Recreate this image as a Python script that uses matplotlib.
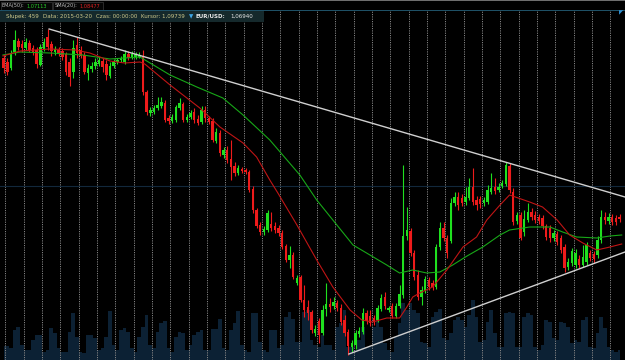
import numpy as np
import matplotlib
matplotlib.use("Agg")
import matplotlib.pyplot as plt
from matplotlib.patches import Rectangle

# --- candle data (daily bars, index 0 = first bar at the left edge) ---
opens = [1.342, 1.338, 1.332, 1.348, 1.359, 1.356, 1.352, 1.357, 1.352, 1.350,
         1.335, 1.351, 1.363, 1.356, 1.348, 1.350, 1.349, 1.346, 1.338, 1.328,
         1.355, 1.350, 1.345, 1.327, 1.331, 1.334, 1.336, 1.339, 1.336, 1.324,
         1.334, 1.338, 1.340, 1.338, 1.346, 1.343, 1.343, 1.343, 1.343, 1.308,
         1.287, 1.288, 1.292, 1.294, 1.297, 1.282, 1.279, 1.280, 1.292, 1.296,
         1.280, 1.283, 1.288, 1.281, 1.278, 1.290, 1.282, 1.279, 1.259, 1.267,
         1.245, 1.250, 1.241, 1.234, 1.227, 1.231, 1.230, 1.228, 1.211, 1.190,
         1.175, 1.168, 1.170, 1.176, 1.174, 1.172, 1.167, 1.154, 1.140, 1.145,
         1.117, 1.123, 1.100, 1.093, 1.088, 1.067, 1.079, 1.067, 1.091, 1.096,
         1.094, 1.097, 1.092, 1.080, 1.068, 1.053, 1.055, 1.066, 1.068, 1.087,
         1.084, 1.082, 1.080, 1.091, 1.103, 1.090, 1.094, 1.084, 1.094, 1.105,
         1.164, 1.169, 1.147, 1.125, 1.103, 1.109, 1.120, 1.117, 1.113, 1.153,
         1.172, 1.162, 1.159, 1.197, 1.203, 1.202, 1.198, 1.202, 1.213, 1.200,
         1.201, 1.197, 1.198, 1.208, 1.213, 1.210, 1.214, 1.216, 1.234, 1.208,
         1.179, 1.185, 1.168, 1.180, 1.188, 1.185, 1.183, 1.182, 1.174, 1.172,
         1.162, 1.166, 1.162, 1.153, 1.133, 1.137, 1.135, 1.141, 1.135, 1.138,
         1.147, 1.146, 1.145, 1.160, 1.183, 1.179, 1.183, 1.182, 1.183]
highs = [1.345, 1.342, 1.350, 1.370, 1.362, 1.360, 1.362, 1.360, 1.355, 1.353,
         1.356, 1.362, 1.371, 1.359, 1.354, 1.353, 1.352, 1.348, 1.342, 1.360,
         1.363, 1.354, 1.348, 1.336, 1.338, 1.342, 1.343, 1.342, 1.340, 1.338,
         1.341, 1.342, 1.344, 1.350, 1.349, 1.349, 1.348, 1.348, 1.350, 1.310,
         1.293, 1.295, 1.303, 1.303, 1.300, 1.285, 1.286, 1.295, 1.302, 1.298,
         1.286, 1.290, 1.292, 1.285, 1.294, 1.294, 1.284, 1.282, 1.272, 1.270,
         1.253, 1.254, 1.260, 1.238, 1.235, 1.233, 1.232, 1.230, 1.214, 1.192,
         1.178, 1.174, 1.190, 1.188, 1.178, 1.175, 1.170, 1.156, 1.154, 1.148,
         1.125, 1.125, 1.115, 1.100, 1.090, 1.075, 1.082, 1.095, 1.117, 1.102,
         1.103, 1.100, 1.096, 1.085, 1.071, 1.060, 1.070, 1.073, 1.092, 1.090,
         1.090, 1.085, 1.095, 1.106, 1.108, 1.094, 1.097, 1.097, 1.115, 1.235,
         1.193, 1.172, 1.150, 1.130, 1.114, 1.124, 1.123, 1.120, 1.156, 1.178,
         1.178, 1.165, 1.202, 1.208, 1.208, 1.206, 1.213, 1.222, 1.232, 1.204,
         1.204, 1.203, 1.215, 1.227, 1.222, 1.217, 1.220, 1.238, 1.237, 1.212,
         1.188, 1.188, 1.190, 1.197, 1.192, 1.189, 1.186, 1.185, 1.176, 1.175,
         1.170, 1.169, 1.165, 1.156, 1.142, 1.152, 1.151, 1.145, 1.155, 1.158,
         1.150, 1.149, 1.164, 1.190, 1.188, 1.187, 1.186, 1.185, 1.186]
lows = [1.327, 1.325, 1.330, 1.345, 1.350, 1.348, 1.350, 1.348, 1.345, 1.332,
        1.334, 1.349, 1.350, 1.344, 1.345, 1.344, 1.340, 1.325, 1.314, 1.322,
        1.342, 1.342, 1.326, 1.320, 1.328, 1.331, 1.334, 1.328, 1.320, 1.322,
        1.332, 1.336, 1.338, 1.336, 1.340, 1.341, 1.341, 1.342, 1.305, 1.285,
        1.284, 1.286, 1.290, 1.292, 1.278, 1.276, 1.277, 1.278, 1.290, 1.278,
        1.278, 1.281, 1.277, 1.275, 1.276, 1.278, 1.276, 1.258, 1.257, 1.244,
        1.242, 1.237, 1.220, 1.224, 1.225, 1.227, 1.226, 1.208, 1.187, 1.172,
        1.165, 1.165, 1.168, 1.169, 1.167, 1.164, 1.151, 1.138, 1.132, 1.121,
        1.115, 1.098, 1.083, 1.080, 1.067, 1.064, 1.057, 1.065, 1.084, 1.088,
        1.091, 1.089, 1.075, 1.064, 1.045, 1.048, 1.051, 1.063, 1.066, 1.076,
        1.074, 1.075, 1.078, 1.089, 1.091, 1.088, 1.082, 1.082, 1.092, 1.102,
        1.160, 1.144, 1.120, 1.100, 1.095, 1.107, 1.110, 1.110, 1.111, 1.150,
        1.159, 1.142, 1.157, 1.194, 1.190, 1.194, 1.195, 1.200, 1.195, 1.190,
        1.192, 1.194, 1.196, 1.206, 1.206, 1.208, 1.212, 1.214, 1.207, 1.175,
        1.176, 1.160, 1.164, 1.178, 1.180, 1.177, 1.176, 1.171, 1.160, 1.158,
        1.159, 1.155, 1.147, 1.128, 1.130, 1.134, 1.132, 1.132, 1.133, 1.135,
        1.139, 1.137, 1.142, 1.157, 1.176, 1.176, 1.175, 1.175, 1.178]
closes = [1.332, 1.328, 1.347, 1.360, 1.353, 1.352, 1.358, 1.350, 1.348, 1.336,
          1.353, 1.358, 1.353, 1.349, 1.351, 1.347, 1.343, 1.328, 1.323, 1.352,
          1.347, 1.344, 1.328, 1.332, 1.334, 1.338, 1.340, 1.333, 1.325, 1.334,
          1.338, 1.340, 1.342, 1.346, 1.342, 1.346, 1.346, 1.345, 1.308, 1.288,
          1.290, 1.292, 1.295, 1.298, 1.280, 1.279, 1.283, 1.293, 1.297, 1.280,
          1.283, 1.287, 1.280, 1.277, 1.290, 1.282, 1.278, 1.260, 1.268, 1.247,
          1.250, 1.240, 1.233, 1.227, 1.232, 1.229, 1.228, 1.210, 1.190, 1.174,
          1.168, 1.171, 1.187, 1.172, 1.170, 1.167, 1.153, 1.140, 1.145, 1.123,
          1.122, 1.100, 1.090, 1.087, 1.070, 1.071, 1.065, 1.090, 1.096, 1.093,
          1.098, 1.092, 1.078, 1.067, 1.054, 1.057, 1.067, 1.069, 1.087, 1.079,
          1.077, 1.078, 1.092, 1.102, 1.094, 1.092, 1.084, 1.094, 1.106, 1.164,
          1.170, 1.147, 1.123, 1.103, 1.110, 1.121, 1.113, 1.113, 1.153, 1.172,
          1.162, 1.147, 1.197, 1.203, 1.195, 1.197, 1.203, 1.213, 1.198, 1.195,
          1.196, 1.200, 1.210, 1.212, 1.209, 1.213, 1.217, 1.235, 1.210, 1.178,
          1.185, 1.162, 1.181, 1.188, 1.183, 1.180, 1.179, 1.174, 1.163, 1.162,
          1.167, 1.158, 1.150, 1.132, 1.138, 1.149, 1.147, 1.135, 1.143, 1.155,
          1.142, 1.141, 1.160, 1.183, 1.180, 1.183, 1.178, 1.178, 1.181]
volume = [14, 14, 12, 30, 33, 15, 10, 10, 20, 25, 25, 8, 10, 32, 27, 12, 8, 8, 28, 47,
          23, 8, 7, 25, 25, 22, 10, 12, 23, 49, 15, 10, 30, 32, 28, 12, 8, 23, 33, 45,
          15, 12, 28, 37, 39, 12, 8, 23, 28, 27, 10, 15, 25, 28, 30, 10, 10, 31, 31, 41,
          12, 10, 30, 37, 49, 15, 10, 8, 47, 47, 18, 10, 8, 30, 30, 12, 15, 43, 48, 41,
          18, 18, 48, 50, 20, 15, 13, 25, 15, 15, 10, 33, 37, 50, 13, 13, 10, 20, 33, 13,
          13, 33, 40, 33, 17, 10, 8, 23, 37, 57, 50, 57, 50, 47, 18, 17, 13, 43, 48, 51,
          22, 20, 27, 40, 43, 40, 33, 45, 60, 43, 18, 20, 38, 50, 27, 13, 13, 47, 48, 47,
          13, 13, 43, 47, 45, 13, 10, 15, 40, 38, 22, 20, 38, 37, 33, 17, 20, 18, 40, 43,
          13, 12, 27, 43, 32, 13, 10, 8, 10]
bar_index = np.arange(len(closes)) - 1

# moving averages (bar index, price)
sma20_x = [-1.2, 3.5, 11.6, 18.5, 22.5, 25.3, 28, 32, 36.2, 37.5, 44.4, 52.5, 58, 64.3,
           68, 71.6, 73.8, 79, 84.4, 88.8, 93.5, 96.7, 99.7, 103.5, 107, 109, 110.6,
           112.5, 116, 119.9, 124.3, 128, 130.8, 134.4, 137, 142.5, 146, 150, 153.4,
           157, 160.8, 164.4, 167.6]
sma20_y = [1.344, 1.349, 1.351, 1.350, 1.347, 1.343, 1.339, 1.337, 1.338, 1.336, 1.315,
           1.292, 1.273, 1.257, 1.243, 1.220, 1.207, 1.175, 1.140, 1.113, 1.090, 1.080,
           1.078, 1.082, 1.082, 1.093, 1.103, 1.107, 1.113, 1.130, 1.153, 1.163, 1.180,
           1.195, 1.205, 1.198, 1.193, 1.180, 1.165, 1.157, 1.150, 1.153, 1.156]
ema50_x = [-1.2, 3.5, 11.6, 20.6, 28, 36.2, 44.4, 51.7, 58.8, 64.3, 71.6, 79.8, 84.4,
           88.8, 94.3, 98, 103.5, 107, 110.6, 114.4, 118, 121.5, 125.4, 129.7, 134.4,
           137, 142.5, 148, 151.5, 155.3, 160.8, 164.4, 167.6]
ema50_y = [1.345, 1.348, 1.347, 1.345, 1.341, 1.343, 1.325, 1.313, 1.302, 1.285, 1.260,
           1.225, 1.200, 1.180, 1.155, 1.147, 1.135, 1.127, 1.130, 1.127, 1.128, 1.135,
           1.144, 1.153, 1.165, 1.170, 1.173, 1.173, 1.168, 1.163, 1.162, 1.164, 1.165]

# triangle trend lines (bar index, price)
upper_x = [11.4, 168.5]
upper_y = [1.371, 1.203]
lower_x = [93.2, 168.5]
lower_y = [1.046, 1.148]

# header texts
row1 = [("EMA(50):", "#bfbfbf"), ("1,07113", "#28d028"), ("SMA(20):", "#bfbfbf"), ("1,08477", "#e02020")]
row2 = [("Słupek: 459", "#cfc98c"), ("Data: 2015-03-20", "#cfc98c"), ("Czas: 00:00:00", "#cfc98c"),
        ("Kursor: 1,09739", "#cfc98c"), ("▼", "#3ea6e6"), ("EUR/USD:", "#e8e8e8"), ("1,06940", "#e8e8e8")]

W, H = 625, 360
fig = plt.figure(figsize=(W / 100, H / 100), dpi=100, facecolor="black")
axv = fig.add_axes([0, 0, 1, 1], facecolor="black")
axv.set_xlim(-2, 168.5)
axv.set_ylim(0, 360)
axv.axis("off")
# volume as a stepped area at the bottom
axv.fill_between(bar_index, volume, 0, step="mid", color="#0c2134", lw=0, zorder=1)

ax = fig.add_axes([0, 0, 1, 1])
ax.patch.set_visible(False)
ax.set_xlim(-2, 168.5)
ax.set_ylim(1.040, 1.400)
ax.axis("off")

# grid
for k in range(34):
    ax.axvline(5 * k - 0.5, color="#858585", lw=0.7, ls=(0, (1.2, 1.2)), zorder=1)
ax.axhline(1.214, color="#12283c", lw=0.8, zorder=1)

# candles
o = np.array(opens)
c = np.array(closes)
up = c >= o
cols = np.where(up, "#1fe01f", "#ee1b1b")
ax.vlines(bar_index, lows, highs, colors=cols, lw=0.8, zorder=3)
body = np.maximum(np.abs(c - o), 0.0012)
ax.bar(bar_index, body, bottom=np.minimum(o, c), width=0.66, color=cols, zorder=4)

ax.plot(ema50_x, ema50_y, color="#18a818", lw=0.8, zorder=5)
ax.plot(sma20_x, sma20_y, color="#c01515", lw=0.8, zorder=5)
ax.plot(upper_x, upper_y, color="#d0d0d0", lw=1.0, zorder=6)
ax.plot(lower_x, lower_y, color="#d0d0d0", lw=1.0, zorder=6)


# header bars (pixel coordinates from the top)
def prect(x, y, w, h, fc, ec="none", lw=0.0):
    fig.patches.append(Rectangle((x / W, 1 - (y + h) / H), w / W, h / H, transform=fig.transFigure,
                                 facecolor=fc, edgecolor=ec, lw=lw, zorder=10))


renderer = fig.canvas.get_renderer()


def text_row(x, y, items, size, gaps, bold=()):
    # lay texts one after another so they never overlap
    for i, (s, col) in enumerate(items):
        t = fig.text(x / W, 1 - y / H, s, color=col, fontsize=size, va="center", ha="left",
                     fontweight="bold" if s in bold else "normal", zorder=11)
        x = t.get_window_extent(renderer).x1 + gaps[i]
    return x


prect(0, 0, W, 10, "black")
prect(0, 0, W, 1.2, "#6e6e6e")
prect(0.5, 2, 51, 7.5, "#060606", ec="#3a3a3a", lw=0.5)
prect(53, 2, 50, 7.5, "#060606", ec="#3a3a3a", lw=0.5)
text_row(2, 6, row1[:2], 3.6, [1.5, 0])
text_row(55, 6, row1[2:], 3.6, [1.5, 0])

prect(0, 10, W, 0.8, "#1e5066")
prect(0, 11, 264, 11, "#15292c")
text_row(6, 16.5, row2, 4.0, [4, 4, 4, 4, 2, 5, 0], bold=("EUR/USD:",))
fig.text(619 / W, 1 - 13 / H, "◤", color="#2f8fd0", fontsize=4, va="center", zorder=11)

fig.savefig("out.png", dpi=100, facecolor="black")
